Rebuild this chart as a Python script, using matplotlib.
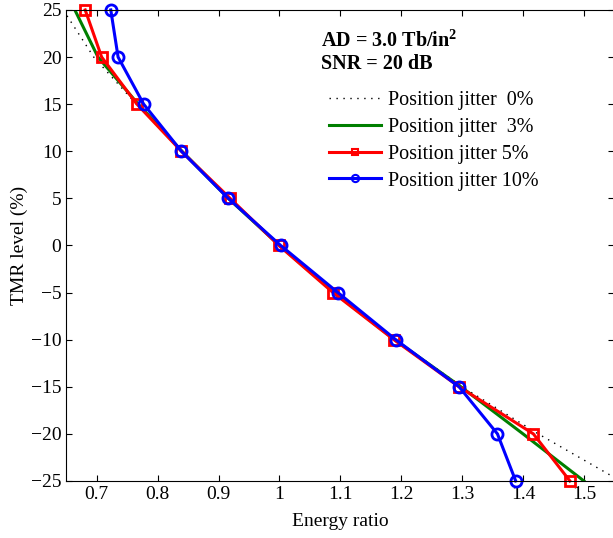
import numpy as np
import matplotlib
matplotlib.use("Agg")
import matplotlib.pyplot as plt

plt.rcParams['font.family'] = ['Liberation Serif', 'DejaVu Serif']
plt.rcParams['mathtext.fontset'] = 'custom'
plt.rcParams['mathtext.rm'] = 'Liberation Serif'
plt.rcParams['mathtext.bf'] = 'Liberation Serif:bold'
plt.rcParams['axes.unicode_minus'] = True

tmr = [25, 20, 15, 10, 5, 0, -5, -10, -15, -20, -25]

# energy ratio for each jitter level
jitter0 = [0.645, 0.695, 0.765, 0.840, 0.915, 1.000, 1.090, 1.190, 1.300, 1.425, 1.560]
jitter3 = [0.664, 0.702, 0.768, 0.840, 0.916, 1.000, 1.090, 1.189, 1.298, 1.400, 1.500]
jitter5 = [0.681, 0.708, 0.766, 0.839, 0.919, 0.999, 1.088, 1.188, 1.295, 1.417, 1.477]
jitter10 = [0.723, 0.735, 0.777, 0.839, 0.916, 1.002, 1.096, 1.191, 1.295, 1.358, 1.388]

labels = ["Position jitter  0%", "Position jitter  3%",
          "Position jitter 5%", "Position jitter 10%"]

fig = plt.figure(figsize=(6.13, 5.38), dpi=100)
ax = fig.add_axes([0.1082, 0.106, 0.894, 0.8755])

ax.plot(jitter0, tmr, linestyle=(0, (1, 4)), color='black', linewidth=1.0, label=labels[0])
ax.plot(jitter3, tmr, color='#007f00', linewidth=2.2, label=labels[1])
ax.plot(jitter5, tmr, color='red', linewidth=2.2, marker='s', markersize=7,
        markerfacecolor='none', markeredgewidth=2, label=labels[2], clip_on=False)
ax.plot(jitter10, tmr, color='blue', linewidth=2.2, marker='o', markersize=8,
        markerfacecolor='none', markeredgewidth=2, label=labels[3], clip_on=False)

ax.set_xlim(0.65, 1.55)
ax.set_ylim(-25, 25)
ax.set_xticks(np.arange(0.7, 1.51, 0.1))
ax.set_xticklabels(["0.7", "0.8", "0.9", "1", "1.1", "1.2", "1.3", "1.4", "1.5"])
ax.set_yticks(np.arange(-25, 26, 5))
ax.tick_params(direction='in', top=True, right=True, labelsize=14, length=4)
ax.set_xlabel("Energy ratio", fontsize=14, labelpad=7)
ax.set_ylabel("TMR level (%)", fontsize=14, labelpad=2)

ax.text(0.465, 0.935, r"AD = 3.0 Tb/in$^\mathbf{2}$", transform=ax.transAxes,
        fontsize=14.5, fontweight='bold', va='center')
ax.text(0.465, 0.885, "SNR = 20 dB", transform=ax.transAxes,
        fontsize=14.5, fontweight='bold', va='center')

leg = ax.legend(loc='upper left', bbox_to_anchor=(0.447, 0.866), frameon=False,
                fontsize=14.5, handlelength=2.55, handletextpad=0.36, labelspacing=0.38,
                markerscale=0.65)
for line in leg.get_lines():
    line.set_markeredgewidth(1.5)

fig.savefig("out.png", dpi=100)
